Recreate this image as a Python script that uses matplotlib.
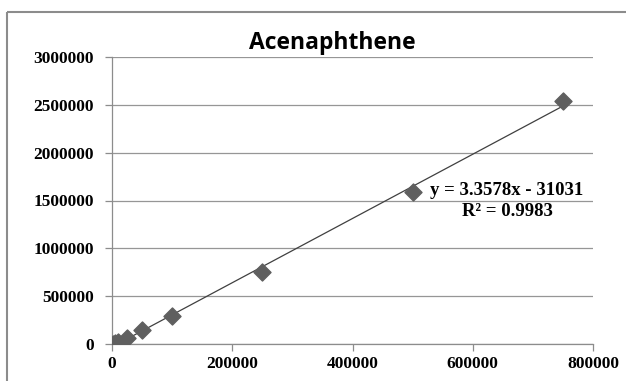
import matplotlib.pyplot as plt
from matplotlib.patches import Rectangle
import numpy as np

# calibration standards
conc = [1000, 5000, 10000, 25000, 50000, 100000, 250000, 500000, 750000]
area = [3000, 12000, 25000, 60000, 148000, 288000, 755000, 1590000, 2535000]

slope = 3.3578
intercept = -31031
r2 = 0.9983

x_ticks = [0, 200000, 400000, 600000, 800000]
y_ticks = [0, 500000, 1000000, 1500000, 2000000, 2500000, 3000000]

fig = plt.figure(figsize=(6.26, 3.81), dpi=100)
ax = fig.add_axes([112 / 626, 1 - 344 / 381, (593 - 112) / 626, (344 - 57) / 381])

# chart frame
fig.patches.append(Rectangle((7 / 626, 1 - 12 / 381), 1.2, -1.2,
                             transform=fig.transFigure, fill=False,
                             edgecolor='#8c8c8c', linewidth=1.5))

xs = np.array([min(conc), max(conc)])
ax.plot(xs, slope * xs + intercept, color='#404040', linewidth=0.9, zorder=2)
ax.scatter(conc, area, marker='D', s=75, color='#5f5f5f', zorder=3)

ax.set_xlim(0, 800000)
ax.set_ylim(0, 3000000)
ax.set_xticks(x_ticks)
ax.set_yticks(y_ticks)
ax.set_xticklabels([str(t) for t in x_ticks])
ax.set_yticklabels([str(t) for t in y_ticks])

for lab in ax.get_xticklabels() + ax.get_yticklabels():
    lab.set_fontfamily('Liberation Serif')
    lab.set_fontweight('bold')
    lab.set_fontsize(12.5)

ax.yaxis.grid(True, color='#969696', linewidth=0.9)
ax.set_axisbelow(True)
for side in ['top', 'right']:
    ax.spines[side].set_visible(False)
for side in ['left', 'bottom']:
    ax.spines[side].set_color('#8c8c8c')
    ax.spines[side].set_linewidth(0.9)
ax.tick_params(axis='both', color='#8c8c8c', length=5, width=0.9)
ax.tick_params(axis='x', pad=4)
ax.tick_params(axis='y', pad=8)

fig.text(332 / 626, 1 - 43 / 381, 'Acenaphthene', fontfamily='Open Sans',
         fontweight='bold', fontsize=16.5, ha='center', va='center')

eq_font = dict(family='Liberation Serif', weight='bold', size=13.5)
fig.text(507 / 626, 1 - 190 / 381, f'y = {slope}x - {abs(intercept)}',
         ha='center', va='center', **eq_font)
fig.text(507 / 626, 1 - 211 / 381, f'R\u00b2 = {r2}',
         ha='center', va='center', **eq_font)

fig.savefig('out.png', dpi=100)
